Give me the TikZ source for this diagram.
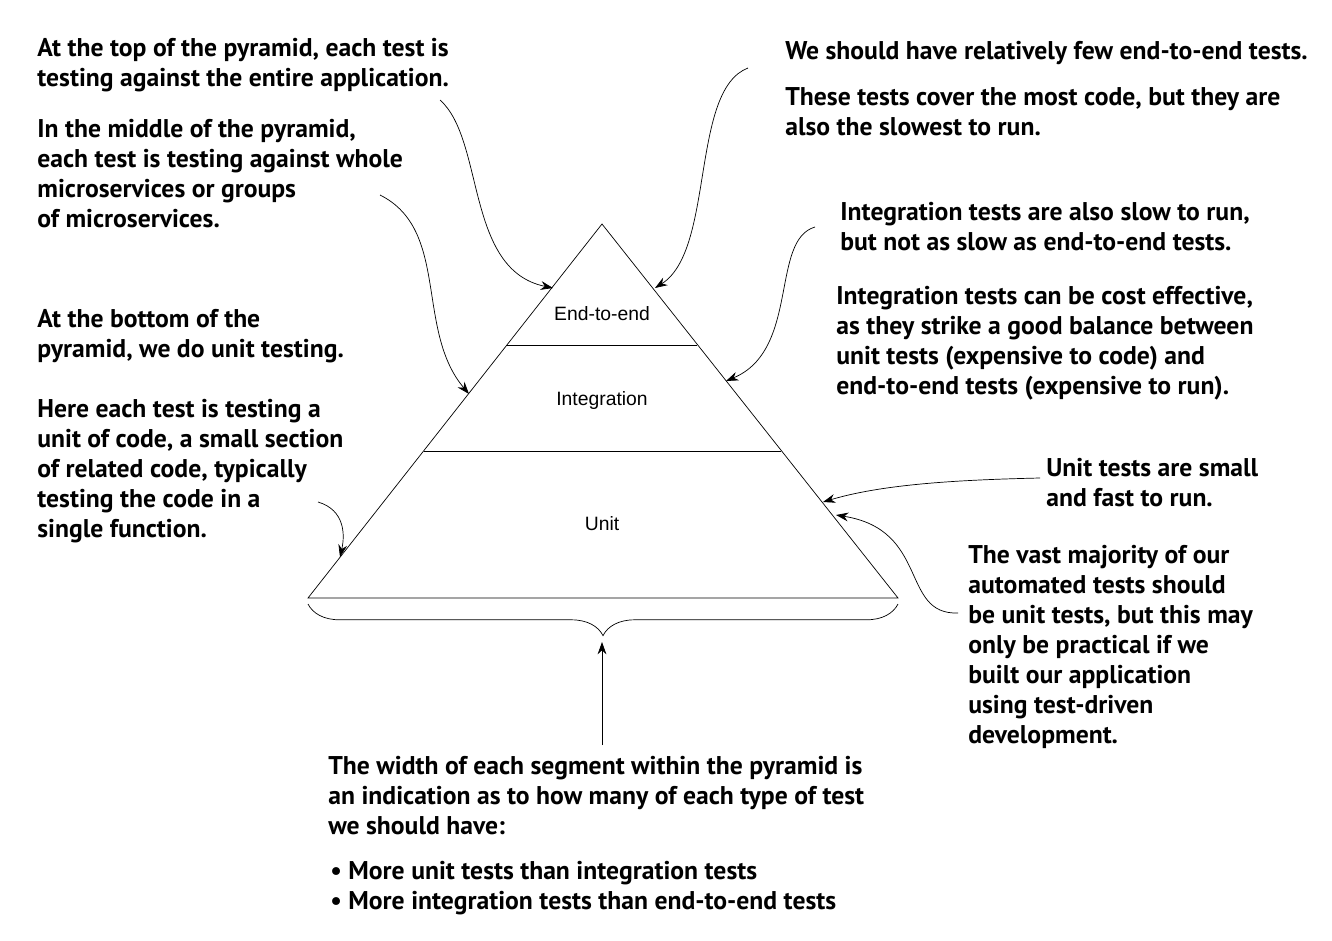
\documentclass[tikz,border=0pt]{standalone}
\usepackage{fontspec}
\setmainfont{PT Sans}
\newfontfamily\labelfont{Liberation Sans}
\usetikzlibrary{arrows.meta,decorations.pathreplacing}

\begin{document}
\begin{tikzpicture}[x=0.02cm, y=-0.02cm,
  note/.style = {anchor=north west, align=left, inner sep=0pt, font=\bfseries\fontsize{14.6}{17.07}\selectfont},
  layer/.style = {font=\labelfont\fontsize{11}{13}\selectfont},
  call/.style = {-{Stealth[length=7pt,width=5pt]}, thin}]

\useasboundingbox (0,0) rectangle (1332,940);

% Pyramid
\coordinate (apex) at (602,224);
\coordinate (bl) at (308,598);
\coordinate (br) at (898,598);
\draw (apex) -- (bl) -- (br) -- cycle;
\coordinate (e2eL) at (507,345);
\coordinate (e2eR) at (697,345);
\coordinate (intL) at (424,451);
\coordinate (intR) at (781,451);
\draw (e2eL) -- (e2eR);
\draw (intL) -- (intR);

\node[layer] (e2e) at (602,314) {End-to-end};
\node[layer] (int) at (602,400) {Integration};
\node[layer] (unit) at (602,524) {Unit};

% Brace
\draw[decorate, decoration={brace, mirror, amplitude=18pt}] (308,604) -- (898,604);
\coordinate (tip) at (602,642);

% Notes, left
\node[note] (topnote) at (37,38) {At the top of the pyramid, each test is\\testing against the entire application.};
\node[note] (midnote) at (37,119) {In the middle of the pyramid,\\each test is testing against whole\\microservices or groups\\of microservices.};
\node[note] (botnote) at (37,309) {At the bottom of the\\pyramid, we do unit testing.};
\node[note] (unitnote) at (37,399) {Here each test is testing a\\unit of code, a small section\\of related code, typically\\testing the code in a\\single function.};

% Notes, right
\node[note] (fewnote) at (785,41) {We should have relatively few end-to-end tests.};
\node[note] (slownote) at (785,87) {These tests cover the most code, but they are\\also the slowest to run.};
\node[note] (intslow) at (840,202) {Integration tests are also slow to run,\\but not as slow as end-to-end tests.};
\node[note] (intcost) at (836,286) {Integration tests can be cost effective,\\as they strike a good balance between\\unit tests (expensive to code) and\\end-to-end tests (expensive to run).};
\node[note] (smallnote) at (1046,458) {Unit tests are small\\and fast to run.};
\node[note] (majnote) at (968,545) {The vast majority of our\\automated tests should\\be unit tests, but this may\\only be practical if we\\built our application\\using test-driven\\development.};

% Note, bottom
\node[note] (widthnote) at (328,756) {The width of each segment within the pyramid is\\an indication as to how many of each type of test\\we should have:};
\node[note] (bullets) at (330,861) {\textbullet\ More unit tests than integration tests\\\textbullet\ More integration tests than end-to-end tests};

% Arrows
\coordinate (a1) at (440,100);  \coordinate (t1) at (553,288);
\coordinate (a2) at (380,195);  \coordinate (t2) at (469,394);
\coordinate (a3) at (318,502);  \coordinate (t3) at (340,557);
\coordinate (a4) at (748,68);   \coordinate (t4) at (655,288);
\coordinate (a5) at (815,227);  \coordinate (t5) at (726,381);
\coordinate (a6) at (1040,478); \coordinate (t6) at (823,502);
\coordinate (a7) at (958,613);  \coordinate (t7) at (836,515);
\coordinate (a8) at (602,745);

\draw[call] (a1) .. controls (485,140) and (465,270) .. (t1);
\draw[call] (a2) .. controls (450,230) and (415,330) .. (t2);
\draw[call] (a3) .. controls (345,510) and (345,535) .. (t3);
\draw[call] (a4) .. controls (690,90) and (715,250) .. (t4);
\draw[call] (a5) .. controls (770,240) and (800,350) .. (t5);
\draw[call] (a6) .. controls (950,480) and (880,485) .. (t6);
\draw[call] (a7) .. controls (900,615) and (930,530) .. (t7);
\draw[call] (a8) -- (tip);

\end{tikzpicture}
\end{document}
